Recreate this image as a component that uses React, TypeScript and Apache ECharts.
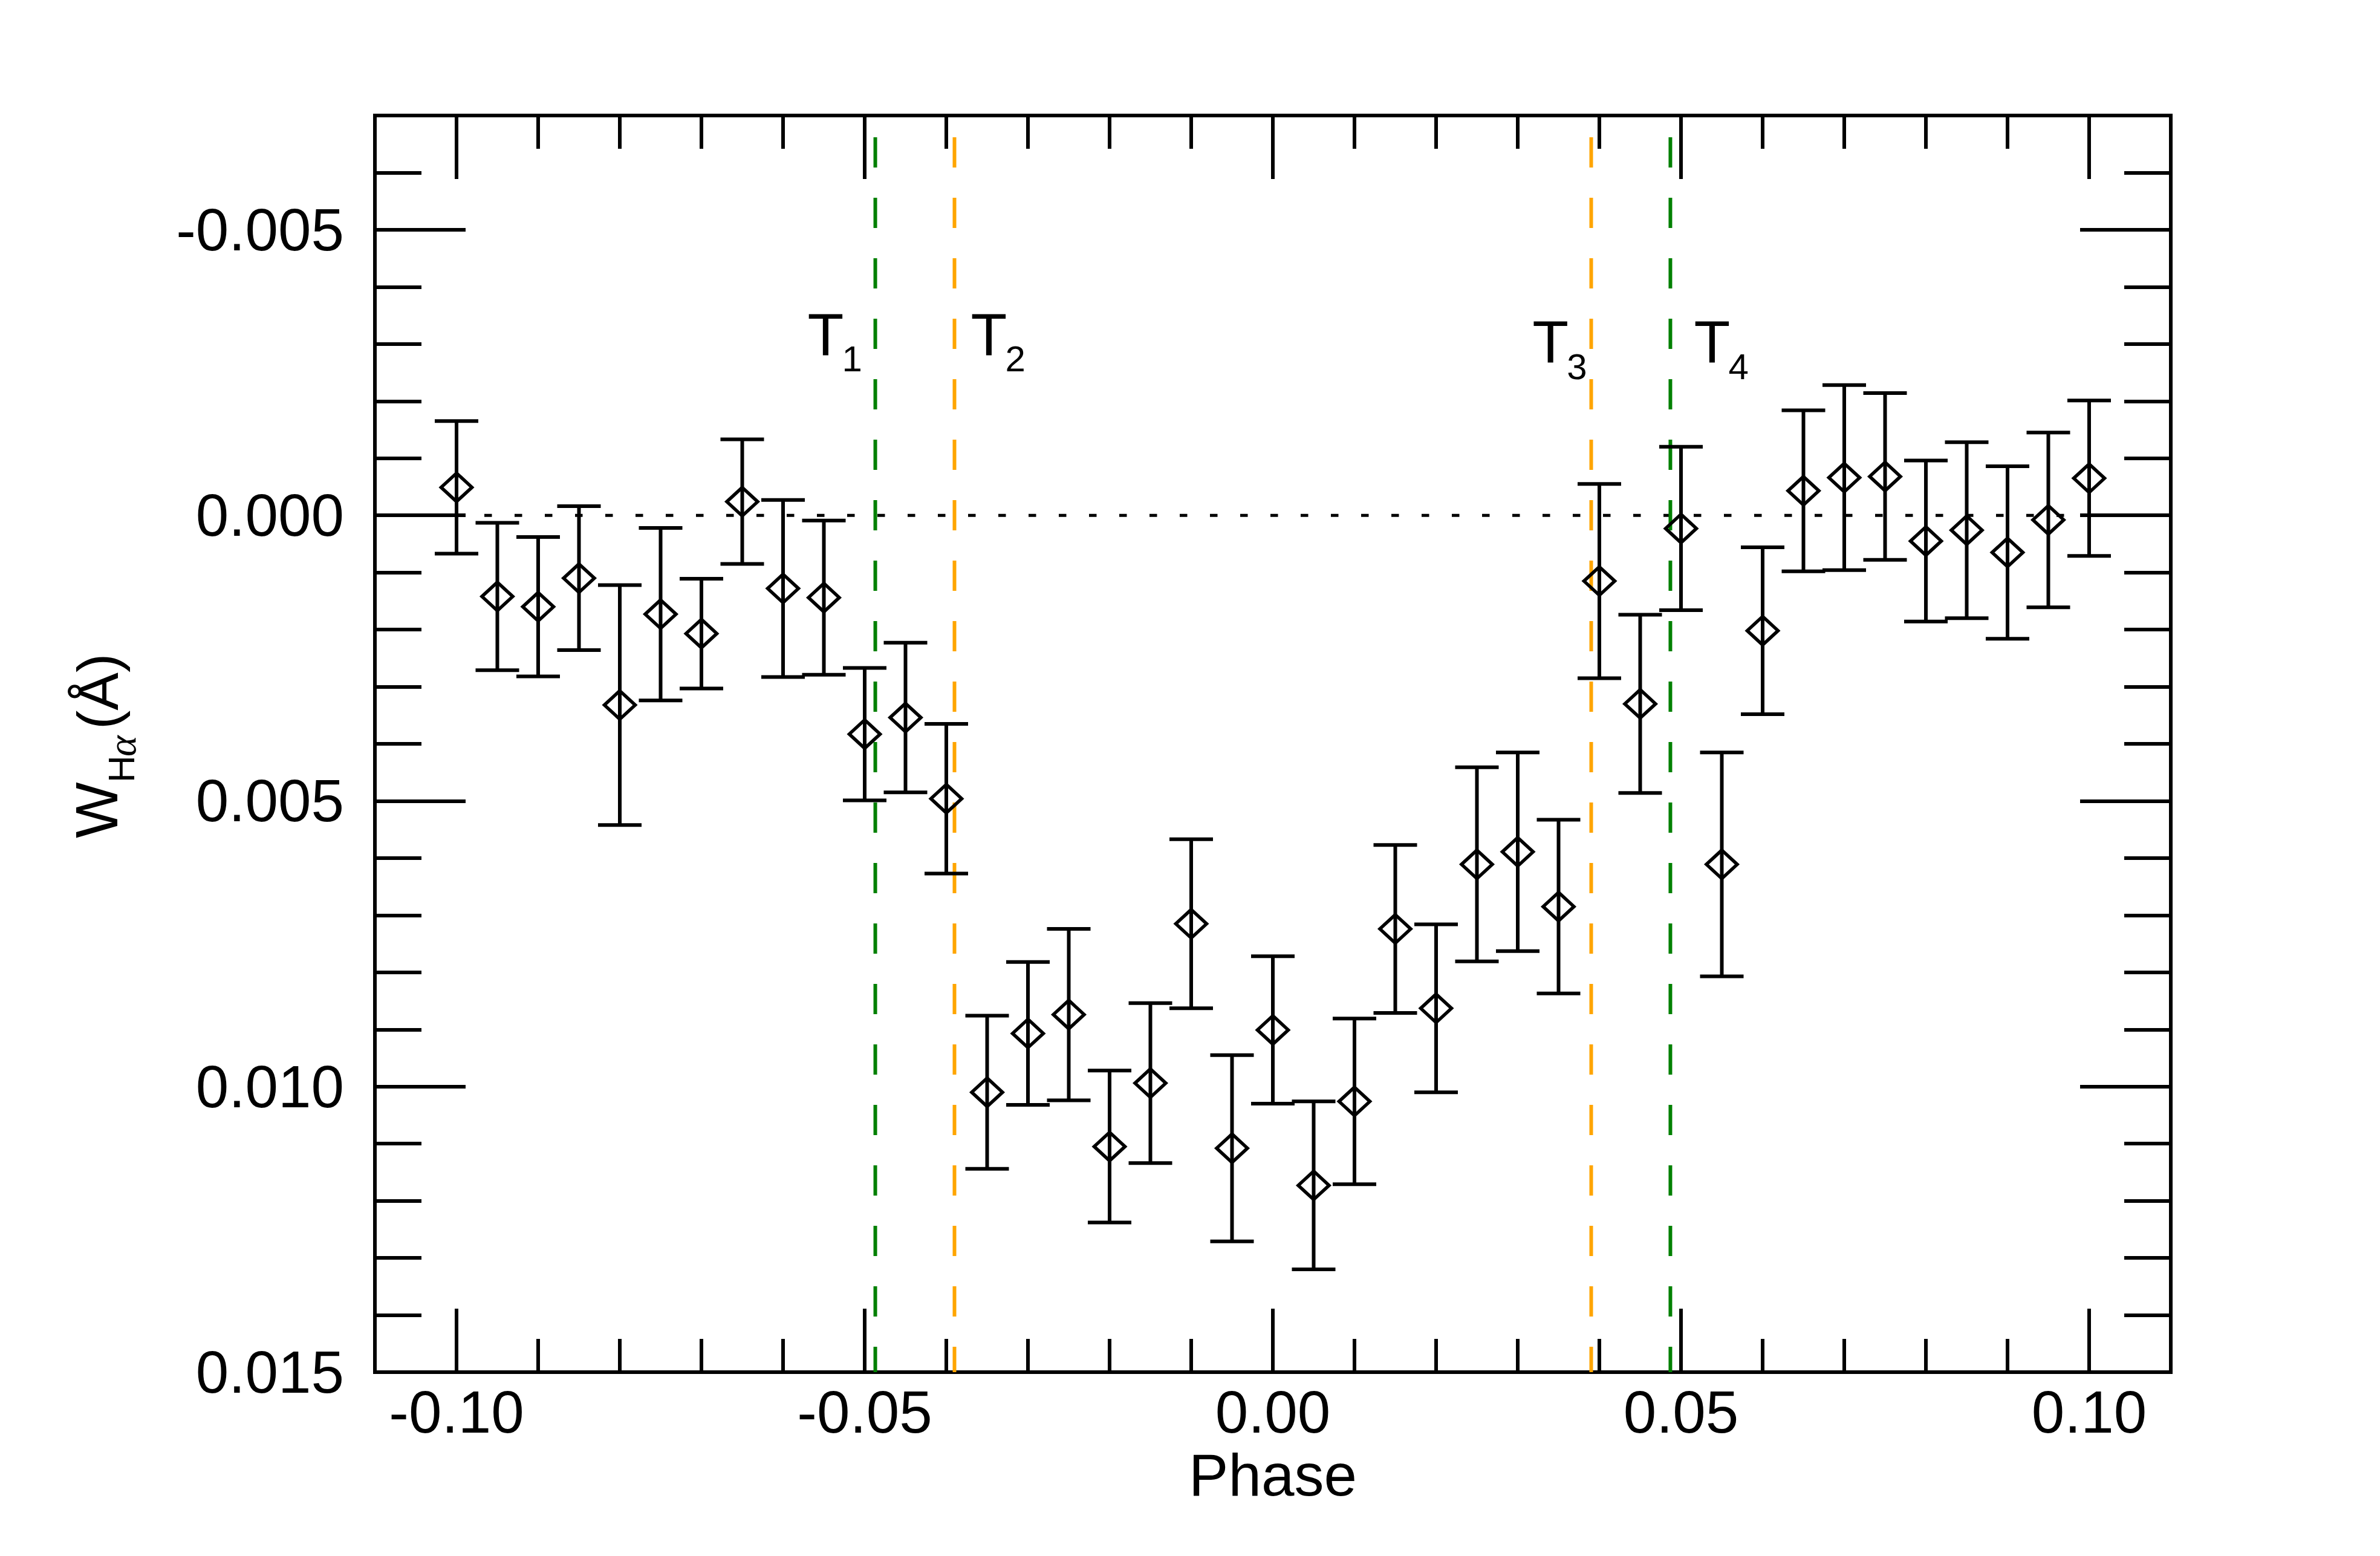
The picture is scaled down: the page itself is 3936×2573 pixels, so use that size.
import React, { useEffect, useRef } from "react";
import * as echarts from "echarts";

// ---- data ----
const phases = [
  -0.1, -0.095, -0.09, -0.085, -0.08, -0.075, -0.07, -0.065, -0.06, -0.055,
  -0.05, -0.045, -0.04, -0.035, -0.03, -0.025, -0.02, -0.015, -0.01, -0.005,
  0.0, 0.005, 0.01, 0.015, 0.02, 0.025, 0.03, 0.035, 0.04, 0.045,
  0.05, 0.055, 0.06, 0.065, 0.07, 0.075, 0.08, 0.085, 0.09, 0.095, 0.1,
];
const widths = [
  -0.00049, 0.00142, 0.0016, 0.0011, 0.00332, 0.00173, 0.00207, -0.00024, 0.00128, 0.00144,
  0.00383, 0.00354, 0.00496, 0.0101, 0.00907, 0.00874, 0.01105, 0.00994, 0.00715, 0.01108,
  0.00901, 0.01173, 0.01026, 0.00724, 0.00863, 0.00611, 0.00589, 0.00685, 0.00115, 0.0033,
  0.00023, 0.00611, 0.00202, -0.00043, -0.00066, -0.00068, 0.00045, 0.00026, 0.00065, 0.00008, -0.00065,
];
const errors = [
  0.00116, 0.00129, 0.00122, 0.00126, 0.0021, 0.00151, 0.00096, 0.00109, 0.00155, 0.00135,
  0.00116, 0.00131, 0.00131, 0.00134, 0.00125, 0.0015, 0.00133, 0.0014, 0.00148, 0.00163,
  0.00129, 0.00147, 0.00145, 0.00147, 0.00147, 0.0017, 0.00174, 0.00152, 0.0017, 0.00156,
  0.00143, 0.00196, 0.00146, 0.00141, 0.00162, 0.00146, 0.00141, 0.00154, 0.00151, 0.00153, 0.00136,
];

// contact points T1..T4
const contactPhases = [-0.0487, -0.039, 0.039, 0.0487];
const contactSubs = ["1", "2", "3", "4"];
const contactColors = ["#008000", "#FFA500", "#FFA500", "#008000"];
const labelPhases = [-0.057, -0.037, 0.0318, 0.0516];
const labelLevels = [-0.00317, -0.00317, -0.00304, -0.00304];

// axes
const xRange = [-0.11, 0.11];
const yRange = [-0.007, 0.015];
const xMajorTicks = [-0.1, -0.05, 0, 0.05, 0.1];
const xMinorTicks = [
  -0.09, -0.08, -0.07, -0.06, -0.04, -0.03, -0.02, -0.01,
  0.01, 0.02, 0.03, 0.04, 0.06, 0.07, 0.08, 0.09,
];
const yMajorTicks = [-0.005, 0, 0.005, 0.01, 0.015];
const yMinorTicks = [
  -0.006, -0.004, -0.003, -0.002, -0.001, 0.001, 0.002, 0.003, 0.004,
  0.006, 0.007, 0.008, 0.009, 0.011, 0.012, 0.013, 0.014,
];

const FONT = "Liberation Sans, Arial, Helvetica, sans-serif";
const BLACK = "#000";

function xAxisDef(position: string, ticks: number[], len: number, labels: boolean, extra: any = {}) {
  return {
    type: "value",
    gridIndex: 0,
    position,
    min: xRange[0],
    max: xRange[1],
    axisLine: { show: false, onZero: false },
    splitLine: { show: false },
    axisTick: {
      show: true,
      inside: true,
      length: len,
      customValues: ticks,
      lineStyle: { color: BLACK, width: 6 },
    },
    axisLabel: labels
      ? {
          show: true,
          customValues: ticks,
          formatter: (v: number) => (Math.abs(v) < 1e-9 ? "0.00" : v.toFixed(2)),
          fontSize: 98,
          fontFamily: FONT,
          color: BLACK,
          margin: 66,
          verticalAlign: "middle",
        }
      : { show: false },
    ...extra,
  };
}

function yAxisDef(position: string, ticks: number[], len: number, labels: boolean) {
  return {
    type: "value",
    gridIndex: 0,
    position,
    inverse: true,
    min: yRange[0],
    max: yRange[1],
    axisLine: { show: false, onZero: false },
    splitLine: { show: false },
    axisTick: {
      show: true,
      inside: true,
      length: len,
      customValues: ticks,
      lineStyle: { color: BLACK, width: 6 },
    },
    axisLabel: labels
      ? {
          show: true,
          customValues: ticks,
          formatter: (v: number) => (Math.abs(v) < 1e-9 ? "0.000" : v.toFixed(3)),
          fontSize: 98,
          fontFamily: FONT,
          color: BLACK,
          margin: 51,
        }
      : { show: false },
  };
}

export default function App() {
  const ref = useRef<HTMLDivElement>(null);

  useEffect(() => {
    document.body.style.margin = "0";
    document.body.style.overflow = "hidden";
    if (!ref.current) return;
    const chart = echarts.init(ref.current, null, { renderer: "svg" });

    const points = phases.map((p, i) => [p, widths[i], errors[i]]);
    const labelData = labelPhases.map((p, i) => [p, labelLevels[i], contactSubs[i]]);

    const contactSeries = contactPhases.map((p, i) => ({
      type: "line",
      xAxisIndex: 0,
      yAxisIndex: 0,
      data: [
        [p, yRange[0]],
        [p, yRange[1]],
      ],
      symbol: "none",
      silent: true,
      z: 1,
      lineStyle: { color: contactColors[i], width: 6, type: [50, 50], dashOffset: 64 },
    }));

    const option: any = {
      animation: false,
      backgroundColor: "#fff",
      grid: {
        left: 620,
        right: 346,
        top: 191,
        bottom: 304,
        show: true,
        borderColor: BLACK,
        borderWidth: 6,
        backgroundColor: "transparent",
      },
      xAxis: [
        xAxisDef("bottom", xMajorTicks, 105, true, {
          name: "Phase",
          nameLocation: "middle",
          nameGap: 170,
          nameTextStyle: { fontSize: 98, fontFamily: FONT, color: BLACK, verticalAlign: "middle" },
        }),
        xAxisDef("bottom", xMinorTicks, 55, false),
        xAxisDef("top", xMajorTicks, 105, false),
        xAxisDef("top", xMinorTicks, 55, false),
      ],
      yAxis: [
        yAxisDef("left", yMajorTicks, 150, true),
        yAxisDef("left", yMinorTicks, 77, false),
        yAxisDef("right", yMajorTicks, 150, false),
        yAxisDef("right", yMinorTicks, 77, false),
      ],
      graphic: [
        {
          type: "text",
          x: 160,
          y: 1386,
          rotation: Math.PI / 2,
          style: { text: "W", fontSize: 98, fontFamily: FONT, fill: BLACK, align: "left", verticalAlign: "middle" },
        },
        {
          type: "text",
          x: 200,
          y: 1294,
          rotation: Math.PI / 2,
          style: { text: "H", fontSize: 62, fontFamily: FONT, fill: BLACK, align: "left", verticalAlign: "middle" },
        },
        {
          type: "text",
          x: 201,
          y: 1251,
          rotation: Math.PI / 2,
          style: {
            text: "α",
            fontSize: 66,
            fontStyle: "italic",
            fontFamily: "Liberation Serif, Times New Roman, serif",
            fill: BLACK,
            align: "left",
            verticalAlign: "middle",
          },
        },
        {
          type: "text",
          x: 162,
          y: 1206,
          rotation: Math.PI / 2,
          style: { text: "(Å)", fontSize: 94, fontFamily: FONT, fill: BLACK, align: "left", verticalAlign: "middle" },
        },
      ],
      series: [
        {
          type: "line",
          xAxisIndex: 0,
          yAxisIndex: 0,
          data: [
            [xRange[0], 0],
            [xRange[1], 0],
          ],
          symbol: "none",
          silent: true,
          z: 1,
          lineStyle: { color: BLACK, width: 5, type: [12.5, 37.5], dashOffset: 19 },
        },
        ...contactSeries,
        {
          type: "custom",
          xAxisIndex: 0,
          yAxisIndex: 0,
          data: points,
          encode: { x: 0, y: 1 },
          z: 3,
          renderItem: (_params: any, api: any) => {
            const x = api.value(0);
            const y = api.value(1);
            const e = api.value(2);
            const c = api.coord([x, y]);
            const t = api.coord([x, y - e]);
            const b = api.coord([x, y + e]);
            const half = 36;
            const st = { stroke: BLACK, lineWidth: 6 };
            return {
              type: "group",
              children: [
                { type: "line", shape: { x1: c[0], y1: t[1], x2: c[0], y2: b[1] }, style: st },
                { type: "line", shape: { x1: c[0] - half, y1: t[1], x2: c[0] + half, y2: t[1] }, style: st },
                { type: "line", shape: { x1: c[0] - half, y1: b[1], x2: c[0] + half, y2: b[1] }, style: st },
              ],
            };
          },
        },
        {
          type: "scatter",
          xAxisIndex: 0,
          yAxisIndex: 0,
          data: points.map((d) => [d[0], d[1]]),
          symbol: "diamond",
          symbolSize: [51, 47],
          z: 4,
          itemStyle: { color: "rgba(0,0,0,0)", borderColor: BLACK, borderWidth: 5.5, opacity: 1 },
        },
        {
          type: "custom",
          xAxisIndex: 0,
          yAxisIndex: 0,
          data: labelData,
          encode: { x: 0, y: 1 },
          z: 5,
          silent: true,
          renderItem: (params: any, api: any) => {
            const p = api.coord([api.value(0), api.value(1)]);
            const sub = labelData[params.dataIndex][2] as string;
            return {
              type: "group",
              children: [
                {
                  type: "text",
                  x: p[0],
                  y: p[1],
                  style: { text: "T", fontSize: 98, fontFamily: FONT, fill: BLACK, align: "left", verticalAlign: "middle" },
                },
                {
                  type: "text",
                  x: p[0] + 57,
                  y: p[1] + 41,
                  style: { text: sub, fontSize: 60, fontFamily: FONT, fill: BLACK, align: "left", verticalAlign: "middle" },
                },
              ],
            };
          },
        },
      ],
    };

    chart.setOption(option);
    return () => {
      chart.dispose();
    };
  }, []);

  return <div ref={ref} style={{ width: 3936, height: 2573 }} />;
}
